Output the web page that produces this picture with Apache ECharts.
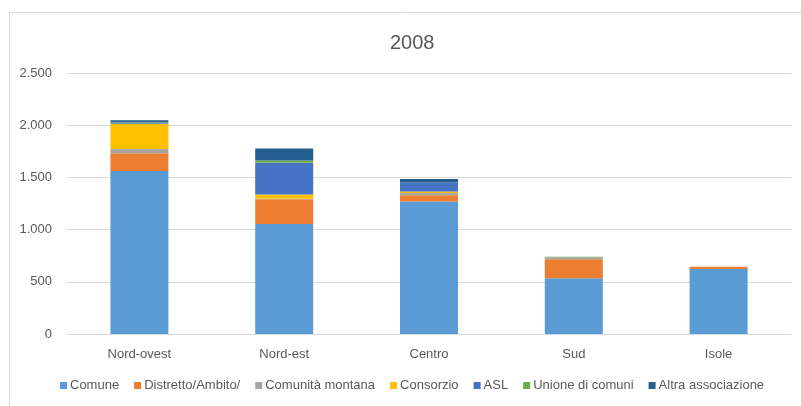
<!DOCTYPE html>
<html><head><meta charset="utf-8">
<script src="https://cdn.jsdelivr.net/npm/echarts@6/dist/echarts.min.js"></script>
<style>html,body{margin:0;padding:0;background:#fff}#c{width:801px;height:406px}</style>
</head><body><div id="c"></div>
<script>
const categories = ['Nord-ovest', 'Nord-est', 'Centro', 'Sud', 'Isole'];
const comune = [1561, 1054, 1268, 534, 623];
const distretto = [170, 237, 61, 182, 22];
const comunitaMontana = [42, 5, 22, 20, 0];
const consorzio = [240, 41, 13, 0, 0];
const asl = [10, 304, 86, 0, 0];
const unione = [5, 22, 0, 5, 0];
const altra = [20, 115, 35, 0, 0];
const yTicks = [0, 500, 1000, 1500, 2000, 2500];

const seriesDefs = [
  ['Comune', comune, '#5B9BD5'],
  ['Distretto/Ambito/', distretto, '#ED7D31'],
  ['Comunità montana', comunitaMontana, '#A5A5A5'],
  ['Consorzio', consorzio, '#FFC000'],
  ['ASL', asl, '#4472C4'],
  ['Unione di comuni', unione, '#70AD47'],
  ['Altra associazione', altra, '#255E91']
];
const font = 'Liberation Sans, Arial, sans-serif';
const chart = echarts.init(document.getElementById('c'));
chart.setOption({
  animation: false,
  title: { text: '2008', left: 385, top: 28, textStyle: { fontFamily: font, fontSize: 20, fontWeight: 'normal', color: '#595959' } },
  graphic: [{ type: 'rect', left: 7, top: 10, shape: { width: 900, height: 500 }, style: { fill: 'none', stroke: '#d9d9d9', lineWidth: 1 }, silent: true }],
  legend: {
    bottom: 9, left: 55, itemWidth: 7, itemHeight: 7, itemGap: 15, icon: 'rect',
    textStyle: { fontFamily: font, fontSize: 13, color: '#595959', padding: [0, 0, 0, -2] },
    data: seriesDefs.map(s => s[0])
  },
  grid: { left: 67, right: 10, top: 73, bottom: 72 },
  xAxis: {
    type: 'category', data: categories,
    axisLine: { lineStyle: { color: '#d9d9d9' } }, axisTick: { show: false },
    axisLabel: { fontFamily: font, fontSize: 13, color: '#595959', margin: 14 }
  },
  yAxis: {
    type: 'value', min: 0, max: yTicks[yTicks.length - 1], interval: 500,
    axisLine: { show: false }, axisTick: { show: false },
    splitLine: { lineStyle: { color: '#d9d9d9' } },
    axisLabel: { fontFamily: font, fontSize: 13, color: '#595959', margin: 15,
      formatter: v => v.toLocaleString('it-IT').replace(/\s/g, '.') }
  },
  series: seriesDefs.map(s => ({
    name: s[0], type: 'bar', stack: 'tot', data: s[1], barWidth: 58,
    itemStyle: { color: s[2] }
  }))
});
</script></body></html>
